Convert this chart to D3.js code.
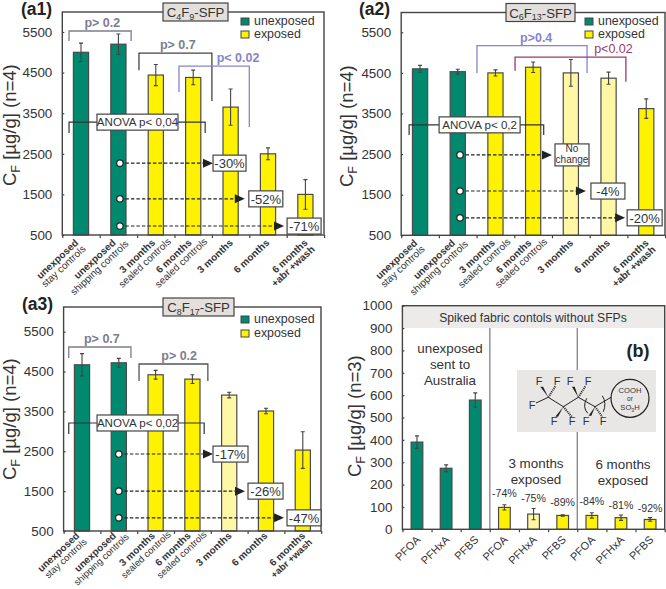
<!DOCTYPE html>
<html>
<head>
<meta charset="utf-8">
<script src="https://cdn.jsdelivr.net/npm/d3@7"></script>
<style>
  html, body { margin: 0; padding: 0; background: #fff; }
  svg { display: block; }
  text { font-family: "Liberation Sans", Arial, sans-serif; fill: #333; }
</style>
</head>
<body>
<div id="chart"></div>
<script>
// Chart data
const sfpLine1 = ['unexposed', 'unexposed', '3 months', '6 months', '3 months', '6 months', '6 months'];
const sfpLine2 = ['stay controls', 'shipping controls', 'sealed controls', 'sealed controls', '', '', '+abr +wash'];
const sfpTicks = [500, 1500, 2500, 3500, 4500, 5500];

const a1Values = [5000, 5200, 4440, 4380, 3650, 2500, 1500];
const a1Errors = [225, 250, 260, 180, 445, 145, 365];
const a1Kinds = ['u', 'u', 'e', 'e', 'e', 'e', 'e'];

const a2Values = [4600, 4530, 4500, 4640, 4500, 4370, 3620];
const a2Errors = [85, 60, 75, 130, 330, 150, 240];
const a2Kinds = ['u', 'u', 'e', 'e', 'l', 'l', 'e'];

const a3Values = [4670, 4720, 4420, 4310, 3910, 3510, 2530];
const a3Errors = [280, 110, 110, 110, 70, 70, 460];
const a3Kinds = ['u', 'u', 'e', 'e', 'l', 'e', 'e'];

const bCategories = ['PFOA', 'PFHxA', 'PFBS', 'PFOA', 'PFHxA', 'PFBS', 'PFOA', 'PFHxA', 'PFBS'];
const bValues = [390, 273, 578, 98, 68, 62, 62, 52, 44];
const bErrors = [28, 15, 32, 12, 25, 3, 12, 12, 8];
const bKinds = ['u', 'u', 'u', 'e', 'l', 'e', 'e', 'e', 'e'];
const bChanges = ['', '', '', '-74%', '-75%', '-89%', '-84%', '-81%', '-92%'];
const bChangeHeights = [0, 0, 0, 144, 122, 104, 109, 91, 77];
const bTicks = d3.range(0, 1001, 100);

const colors = { u: '#00896f', e: '#fff200', l: '#fff7a3' };
const frameColor = '#444';
const paleBlue = '#8585cc';
const greyBlue = '#7d7d8e';
const plum = '#9a3a70';

// nudges for the rotated two line labels, from the band centre
const line1Dx = [-2, -2, 0, -1, 3, 2, 3];
const line1Dy = 8.5;
const line2Dx = [5.4, 10.8, 15.8, 14.8, 0, 0, 10];
const line2Dy = [14.5, 9.5, 7.3, 7.3, 0, 0, 15];

const svg = d3.select('#chart').append('svg').attr('width', 666).attr('height', 589);

// text with a subscript part: parts = [[text, isSub], ...]
function richText(sel, parts, size) {
    parts.forEach(([t, isSub], i) => {
        const prev = i > 0 && parts[i - 1][1];
        sel.append('tspan')
            .attr('dy', isSub ? size * 0.22 : prev ? -size * 0.22 : 0)
            .attr('font-size', isSub ? size * 0.68 : size)
            .text(t);
    });
}

function drawBars(g, cats, values, errors, kinds, x, y, barWidth) {
    const base = y.range()[0];
    cats.forEach((c, i) => {
        const cx = x(i + 0.5);
        g.append('rect')
            .attr('x', cx - barWidth / 2)
            .attr('y', y(values[i]))
            .attr('width', barWidth)
            .attr('height', base - y(values[i]))
            .attr('fill', colors[kinds[i]])
            .attr('stroke', '#4a4a4a')
            .attr('stroke-width', 1.2);
        const top = y(values[i] + errors[i]), bot = y(values[i] - errors[i]);
        g.append('path')
            .attr('d', `M${cx},${top}V${bot}M${cx - 2},${top}H${cx + 2}M${cx - 2},${bot}H${cx + 2}`)
            .attr('stroke', '#444').attr('stroke-width', 1.1).attr('fill', 'none');
    });
}

function drawFrame(g, box, x, y, ticks, nBands) {
    // y axis with small inward ticks, x axis with ticks at the band edges
    const yAxis = g.append('g')
        .attr('transform', `translate(${box.left},0)`)
        .call(d3.axisLeft(y).tickValues(ticks).tickFormat(d3.format('d')).tickSize(-2).tickPadding(10).tickSizeOuter(0));
    yAxis.select('.domain').remove();
    yAxis.selectAll('line').attr('stroke', frameColor).attr('stroke-width', 1.2);
    yAxis.selectAll('text').attr('font-size', 13.4).attr('font-family', '"Liberation Sans", Arial, sans-serif');

    const xAxis = g.append('g')
        .attr('transform', `translate(0,${box.bottom})`)
        .call(d3.axisBottom(x).tickValues(d3.range(0, nBands + 1)).tickFormat('').tickSize(3).tickSizeOuter(0));
    xAxis.select('.domain').remove();
    xAxis.selectAll('line').attr('stroke', frameColor).attr('stroke-width', 1.2);

    g.append('rect')
        .attr('x', box.left).attr('y', box.top)
        .attr('width', box.right - box.left).attr('height', box.bottom - box.top)
        .attr('fill', 'none').attr('stroke', frameColor).attr('stroke-width', 1.4);
}

function drawYLabel(g, xPos, yPos, n) {
    const t = g.append('text').attr('transform', `translate(${xPos},${yPos}) rotate(-90)`);
    richText(t, [['C', false], ['F', true], [` [µg/g] (n=${n})`, false]], 18.5);
}

function drawBracket(g, x, y, b) {
    g.append('path')
        .attr('d', `M${x(b.from)},${y(b.leftEnd)}V${y(b.top)}H${x(b.to)}V${y(b.rightEnd)}`)
        .attr('fill', 'none').attr('stroke', b.color).attr('stroke-width', 1.3);
    g.append('text')
        .attr('x', x(b.labelAt)).attr('y', y(b.top) - 4)
        .attr('text-anchor', 'middle')
        .attr('font-size', 12.5).attr('font-weight', b.plain ? 'normal' : 'bold')
        .style('fill', b.labelColor).text(b.label);
}

function drawAnova(g, x, y, a) {
    g.append('path')
        .attr('d', `M${x(a.from)},${y(a.ends)}V${y(a.level)}H${x(a.to)}V${y(a.ends)}`)
        .attr('fill', 'none').attr('stroke', '#333').attr('stroke-width', 1.2);
    const cx = x(a.center), cy = y(a.level);
    g.append('rect').attr('x', cx - 40.5).attr('y', cy - 8).attr('width', 81).attr('height', 16)
        .attr('fill', '#fff').attr('stroke', '#444').attr('stroke-width', 1.2);
    g.append('text').attr('x', cx).attr('y', cy + 4.3).attr('text-anchor', 'middle')
        .attr('font-size', 11.6).text(a.label);
}

function drawChange(g, x, y, c) {
    const x0 = x(c.start), x1 = x(c.tip), yy = y(c.level);
    g.append('line').attr('x1', x0).attr('x2', x1 - 6).attr('y1', yy).attr('y2', yy)
        .attr('stroke', '#222').attr('stroke-width', 1.1).attr('stroke-dasharray', '3.5,2');
    g.append('path').attr('d', `M${x1},${yy}L${x1 - 10},${yy - 4.5}V${yy + 4.5}Z`).attr('fill', '#222');
    g.append('circle').attr('cx', x0).attr('cy', yy).attr('r', 3.2)
        .attr('fill', '#fff').attr('stroke', '#222').attr('stroke-width', 1.2);
    const h = c.lines.length > 1 ? 22 : 16;
    const bx = x1 + c.gap;
    g.append('rect').attr('x', bx).attr('y', yy - h / 2).attr('width', c.w).attr('height', h)
        .attr('fill', '#fff').attr('stroke', '#444').attr('stroke-width', 1.2);
    if (c.lines.length > 1) {
        c.lines.forEach((l, i) => {
            g.append('text').attr('x', bx + c.w / 2).attr('y', yy - 2.5 + i * 10.5)
                .attr('text-anchor', 'middle').attr('font-size', 10).text(l);
        });
    } else {
        g.append('text').attr('x', bx + c.w / 2).attr('y', yy + 4.8)
            .attr('text-anchor', 'middle').attr('font-size', 13).text(c.lines[0]);
    }
}

function drawLegend(g, sx, tx, y1, y2) {
    [[y1, 'u', 'unexposed'], [y2, 'e', 'exposed']].forEach(([yy, k, label]) => {
        g.append('rect').attr('x', sx).attr('y', yy - 7).attr('width', 8).attr('height', 7)
            .attr('fill', colors[k]).attr('stroke', '#444').attr('stroke-width', 1);
        g.append('text').attr('x', tx).attr('y', yy).attr('font-size', 12.4).text(label);
    });
}

// one of the three SFP panels
function drawSfpPanel(p) {
    const g = svg.append('g');
    const x = d3.scaleLinear().domain([0, 7]).range([p.box.left, p.box.left + 7 * p.band]);
    const y = d3.scaleLinear().domain([500, 5500]).range([p.box.bottom, p.y5500]);

    drawBars(g, sfpLine1, p.values, p.errors, p.kinds, x, y, 15.2);
    drawFrame(g, p.box, x, y, sfpTicks, 7);

    // two line category labels
    const by = p.box.bottom + (p.labelShift || 0);
    sfpLine1.forEach((c, i) => {
        const cx = x(i + 0.5);
        g.append('text')
            .attr('transform', `translate(${cx + line1Dx[i]},${by + line1Dy}) rotate(-43)`)
            .attr('text-anchor', 'end').attr('font-size', 10).attr('font-weight', 'bold').text(c);
        if (sfpLine2[i]) {
            g.append('text')
                .attr('transform', `translate(${cx + line2Dx[i]},${by + line2Dy[i]}) rotate(-43)`)
                .attr('text-anchor', 'end').attr('font-size', p.line2Size || 10)
                .attr('font-weight', i === 6 ? 'bold' : 'normal').text(sfpLine2[i]);
        }
    });

    p.brackets.forEach(b => drawBracket(g, x, y, b));
    drawAnova(g, x, y, p.anova);
    p.changes.forEach(c => drawChange(g, x, y, c));

    // title box on the top edge
    g.append('rect').attr('x', p.titleBox[0]).attr('y', p.box.top - 9)
        .attr('width', p.titleBox[1] - p.titleBox[0]).attr('height', 18)
        .attr('fill', '#e3dfdc').attr('stroke', '#444').attr('stroke-width', 1.2);
    const t = g.append('text').attr('x', (p.titleBox[0] + p.titleBox[1]) / 2).attr('y', p.box.top + 5)
        .attr('text-anchor', 'middle');
    richText(t, p.title, 13.2);

    drawLegend(g, p.legendX, p.legendX + 13, p.legendY[0], p.legendY[1]);
    g.append('text').attr('x', p.tag[0]).attr('y', p.tag[1])
        .attr('font-size', 17.5).attr('font-weight', 'bold').style('fill', '#222').text(p.tagText);
    drawYLabel(g, p.yLabel[0], p.yLabel[1], 4);
}

drawSfpPanel({
    values: a1Values, errors: a1Errors, kinds: a1Kinds,
    box: { left: 62.3, right: 324, top: 12, bottom: 235 }, band: 37.4, y5500: 32,
    titleBox: [163, 228], title: [['C', false], ['4', true], ['F', false], ['9', true], ['-SFP', false]],
    legendX: 241, legendY: [25, 38], tag: [21, 15], tagText: '(a1)', yLabel: [16, 186],
    brackets: [
        { from: 0.18, to: 1.84, top: 5525, leftEnd: 5280, rightEnd: 5280, labelAt: 1.07, label: 'p> 0.2', color: greyBlue, labelColor: greyBlue },
        { from: 2.05, to: 4.0, top: 4980, leftEnd: 4560, rightEnd: 3800, labelAt: 3.09, label: 'p> 0.7', color: '#444', labelColor: greyBlue },
        { from: 3.12, to: 5.0, top: 4660, leftEnd: 4020, rightEnd: 3160, labelAt: 4.7, label: 'p< 0.02', color: paleBlue, labelColor: paleBlue }
    ],
    anova: { from: 0.18, to: 3.82, level: 3280, ends: 3010, center: 2.01, label: 'ANOVA p< 0,04' },
    changes: [
        { start: 1.54, tip: 4.03, level: 2270, gap: 0, w: 33, lines: ['-30%'] },
        { start: 1.54, tip: 4.88, level: 1390, gap: 4, w: 34, lines: ['-52%'] },
        { start: 1.54, tip: 5.93, level: 720, gap: 3, w: 34, lines: ['-71%'] }
    ]
});

drawSfpPanel({
    values: a2Values, errors: a2Errors, kinds: a2Kinds,
    box: { left: 401.2, right: 665, top: 12.5, bottom: 235.3 }, band: 37.7, y5500: 32.3,
    titleBox: [506, 575], title: [['C', false], ['6', true], ['F', false], ['13', true], ['-SFP', false]],
    legendX: 585, legendY: [25, 38], tag: [359, 15], tagText: '(a2)', yLabel: [353, 187],
    brackets: [
        { from: 2.01, to: 4.93, top: 5170, leftEnd: 4500, rightEnd: 4500, labelAt: 3.58, label: 'p>0.4', color: paleBlue, labelColor: paleBlue },
        { from: 3.02, to: 5.96, top: 4890, leftEnd: 4550, rightEnd: 4280, labelAt: 5.63, label: 'p<0.02', color: plum, labelColor: plum, plain: true }
    ],
    anova: { from: 0.21, to: 3.78, level: 3220, ends: 2970, center: 2.08, label: 'ANOVA p< 0,2' },
    changes: [
        { start: 1.56, tip: 4.0, level: 2480, gap: 3, w: 34, lines: ['No', 'change'] },
        { start: 1.56, tip: 4.9, level: 1590, gap: 5, w: 34, lines: ['-4%'] },
        { start: 1.56, tip: 5.94, level: 930, gap: 2, w: 35, lines: ['-20%'] }
    ]
});

drawSfpPanel({
    values: a3Values, errors: a3Errors, kinds: a3Kinds,
    box: { left: 63.6, right: 321, top: 307, bottom: 531 }, band: 36.8, y5500: 331.7, labelShift: -3, line2Size: 9.5,
    titleBox: [163, 234], title: [['C', false], ['8', true], ['F', false], ['17', true], ['-SFP', false]],
    legendX: 241, legendY: [323, 337], tag: [22, 310], tagText: '(a3)', yLabel: [16, 480],
    brackets: [
        { from: 0.14, to: 1.83, top: 5116, leftEnd: 4840, rightEnd: 4840, labelAt: 1.04, label: 'p> 0.7', color: greyBlue, labelColor: greyBlue },
        { from: 2.05, to: 3.92, top: 4690, leftEnd: 4263, rightEnd: 4263, labelAt: 3.14, label: 'p> 0.2', color: '#555', labelColor: greyBlue }
    ],
    anova: { from: 0.14, to: 3.82, level: 3210, ends: 2934, center: 2.01, label: 'ANOVA p< 0,02' },
    changes: [
        { start: 1.5, tip: 4.06, level: 2430, gap: 0, w: 35, lines: ['-17%'] },
        { start: 1.5, tip: 4.93, level: 1500, gap: 3, w: 35, lines: ['-26%'] },
        { start: 1.5, tip: 5.99, level: 830, gap: 3, w: 34, lines: ['-47%'] }
    ]
});

// panel (b)
function drawPanelB() {
    const g = svg.append('g');
    const box = { left: 402.4, right: 664.7, top: 305.7, bottom: 529.3 };
    const x = d3.scaleLinear().domain([0, 9]).range([box.left, box.right]);
    const y = d3.scaleLinear().domain([0, 1000]).range([box.bottom, box.top]);

    g.append('rect').attr('x', box.left).attr('y', y(1000))
        .attr('width', box.right - box.left).attr('height', y(900) - y(1000)).attr('fill', '#ecebe9');
    [3, 6].forEach(i => {
        g.append('line').attr('x1', x(i)).attr('x2', x(i)).attr('y1', y(900)).attr('y2', y(0))
            .attr('stroke', '#80808f').attr('stroke-width', 1.3);
    });

    // structure box sits above the divider
    g.append('rect').attr('x', 517).attr('y', 370).attr('width', 139).attr('height', 62).attr('fill', '#e9e7e5');
    drawMolecule(g);

    drawBars(g, bCategories, bValues, bErrors, bKinds, x, y, 11.7);
    drawFrame(g, box, x, y, bTicks, 9);

    bCategories.forEach((c, i) => {
        g.append('text')
            .attr('transform', `translate(${x(i + 0.5) + 4},${box.bottom + 11}) rotate(-45)`)
            .attr('text-anchor', 'end').attr('font-size', 11).text(c);
        if (bChanges[i]) {
            g.append('text').attr('x', x(i + 0.5)).attr('y', y(bChangeHeights[i]))
                .attr('text-anchor', 'middle').attr('font-size', 10.6).text(bChanges[i]);
        }
    });

    g.append('text').attr('x', 533).attr('y', 322).attr('text-anchor', 'middle')
        .attr('font-size', 12.2).text('Spiked fabric contols without SFPs');
    g.append('text').attr('x', 638).attr('y', 357).attr('text-anchor', 'middle')
        .attr('font-size', 18).attr('font-weight', 'bold').style('fill', '#222').text('(b)');

    [[450, ['unexposed', 'sent to', 'Australia'], 353, 16],
     [536, ['3 months', 'exposed'], 468, 15.5],
     [623, ['6 months', 'exposed'], 469, 15.5]].forEach(([cx, lines, y0, dy]) => {
        lines.forEach((l, i) => {
            g.append('text').attr('x', cx).attr('y', y0 + i * dy)
                .attr('text-anchor', 'middle').attr('font-size', 13.4).text(l);
        });
    });

    drawYLabel(g, 361, 477, 3);
}

function drawMolecule(g) {
    const chain = [[536, 403], [548.3, 397.3], [563.3, 406.7], [578.3, 397.3], [595, 406.7], [611, 397.3]];
    g.append('path').attr('d', d3.line()(chain))
        .attr('fill', 'none').attr('stroke', '#222').attr('stroke-width', 1);
    const wedge = (a, b) => g.append('path')
        .attr('d', `M${a[0]},${a[1]}L${b[0] - 1.4},${b[1]}L${b[0] + 1.4},${b[1]}Z`).attr('fill', '#222');
    const hash = (a, b) => g.append('line').attr('x1', a[0]).attr('y1', a[1]).attr('x2', b[0]).attr('y2', b[1])
        .attr('stroke', '#222').attr('stroke-width', 2).attr('stroke-dasharray', '1,1');
    wedge(chain[1], [541.7, 386.7]); hash(chain[1], [555.7, 385.7]);
    wedge(chain[2], [556.7, 416.7]); hash(chain[2], [571.7, 416.7]);
    wedge(chain[3], [573.3, 386.7]); hash(chain[3], [585.7, 385.7]);
    wedge(chain[4], [590, 415.7]); hash(chain[4], [602.3, 416.7]);
    [[539, 381], [557, 381], [570, 381], [588, 381], [532, 405], [554, 421], [572, 421], [586, 421], [603, 421]].forEach(d => {
        g.append('text').attr('x', d[0]).attr('y', d[1] + 4).attr('text-anchor', 'middle')
            .attr('font-size', 11).text('F');
    });
    g.append('path').attr('d', 'M586.7,398.3Q582,407 587.7,413.3').attr('fill', 'none').attr('stroke', '#222');
    g.append('path').attr('d', 'M602.3,395.7Q607,403 603.3,411.7').attr('fill', 'none').attr('stroke', '#222');
    g.append('circle').attr('cx', 630).attr('cy', 398.3).attr('r', 19)
        .attr('fill', '#e9e7e5').attr('stroke', '#222').attr('stroke-width', 1.2);
    g.append('text').attr('x', 630).attr('y', 393).attr('text-anchor', 'middle').attr('font-size', 7.6).text('COOH');
    g.append('text').attr('x', 630).attr('y', 401).attr('text-anchor', 'middle').attr('font-size', 6.5).text('or');
    const so = g.append('text').attr('x', 630).attr('y', 410).attr('text-anchor', 'middle');
    richText(so, [['SO', false], ['3', true], ['H', false]], 7.6);
}

drawPanelB();
</script>
</body>
</html>
